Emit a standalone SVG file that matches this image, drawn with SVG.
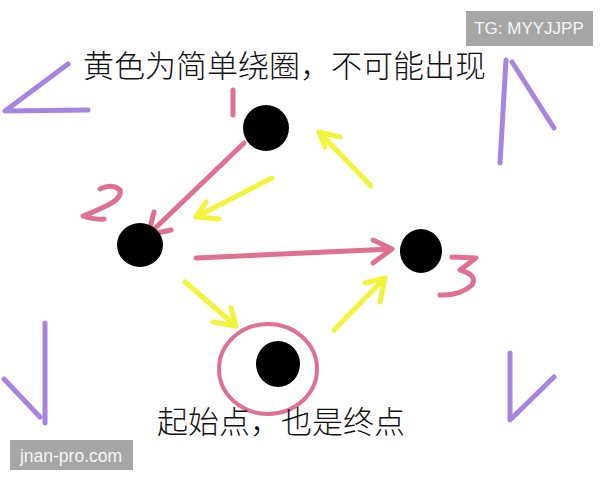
<svg xmlns="http://www.w3.org/2000/svg" width="600" height="480" viewBox="0 0 600 480">
<style>
.pk{fill:none;stroke:#e0708f;stroke-width:5;stroke-linecap:round;stroke-linejoin:round}
.yl{fill:none;stroke:#f3f33c;stroke-width:5;stroke-linecap:round;stroke-linejoin:round}
.pu{fill:none;stroke:#a784e0;stroke-width:5;stroke-linecap:round;stroke-linejoin:round}
.node{fill:#000}
.cap{font-family:"Noto Sans CJK SC","Noto Sans",sans-serif;font-size:31px;font-weight:300;fill:#111}
.wm{font-family:"Liberation Sans",Arial,sans-serif;fill:#f6f6f6}
</style>
<rect width="600" height="480" fill="#fff"/>
<g id="decor">
<path class="pu" d="M68,64 L5,111 L88,110"/>
<path class="pu" d="M506,60 L500,163 M512,62 L554,128"/>
<path class="pu" d="M45,323 L45,423 M4,379 L40,417"/>
<path class="pu" d="M510,353 L510,420 L554,377"/>
</g>
<g id="connectors">
<path class="pk" d="M244,143 L148,235 M154,212 L148,235 L171,230"/>
<path class="pk" d="M196,258 L392,249 M373,240 L392,249 L373,263"/>
<path class="yl" d="M371,186 L319,132 M340,137 L319,132 L325,147"/>
<path class="yl" d="M272,178 L196,217 M206,202 L196,217 L219,219"/>
<path class="yl" d="M185,282 L236,326 M231,308 L236,326 L213,322"/>
<path class="yl" d="M334,330 L385,278 M365,283 L385,278 L380,302"/>
</g>
<g id="labels">
<path class="pk" d="M233,90 L233,115"/>
<path class="pk" d="M100,189 Q112,183 120,190 Q122,198 108,205 Q94,212 83,216 Q95,220 104,219"/>
<path class="pk" d="M452,257 L476,258 L460,270 Q478,275 472,285 Q460,296 440,295"/>
</g>
<g id="node1"><ellipse class="node" cx="266" cy="128" rx="23" ry="23"/></g>
<g id="node2"><ellipse class="node" cx="140" cy="245" rx="23" ry="22"/></g>
<g id="node3"><ellipse class="node" cx="421" cy="251" rx="21" ry="22"/></g>
<g id="node4">
<ellipse cx="268" cy="369" rx="49" ry="45" fill="none" stroke="#e0708f" stroke-width="4"/>
<ellipse class="node" cx="278" cy="364" rx="22" ry="23"/>
</g>
<g id="texts">
<text class="cap" x="83" y="77">黄色为简单绕圈，不可能出现</text>
<text class="cap" x="157" y="433">起始点，也是终点</text>
</g>
<g id="watermarks">
<rect x="466" y="11" width="127" height="35" fill="#a6a6a6"/>
<text class="wm" x="529" y="34" font-size="17" text-anchor="middle">TG: MYYJJPP</text>
<rect x="10" y="440" width="123" height="30" fill="#a6a6a6"/>
<text class="wm" x="71" y="462" font-size="17.5" text-anchor="middle">jnan-pro.com</text>
</g>
</svg>
